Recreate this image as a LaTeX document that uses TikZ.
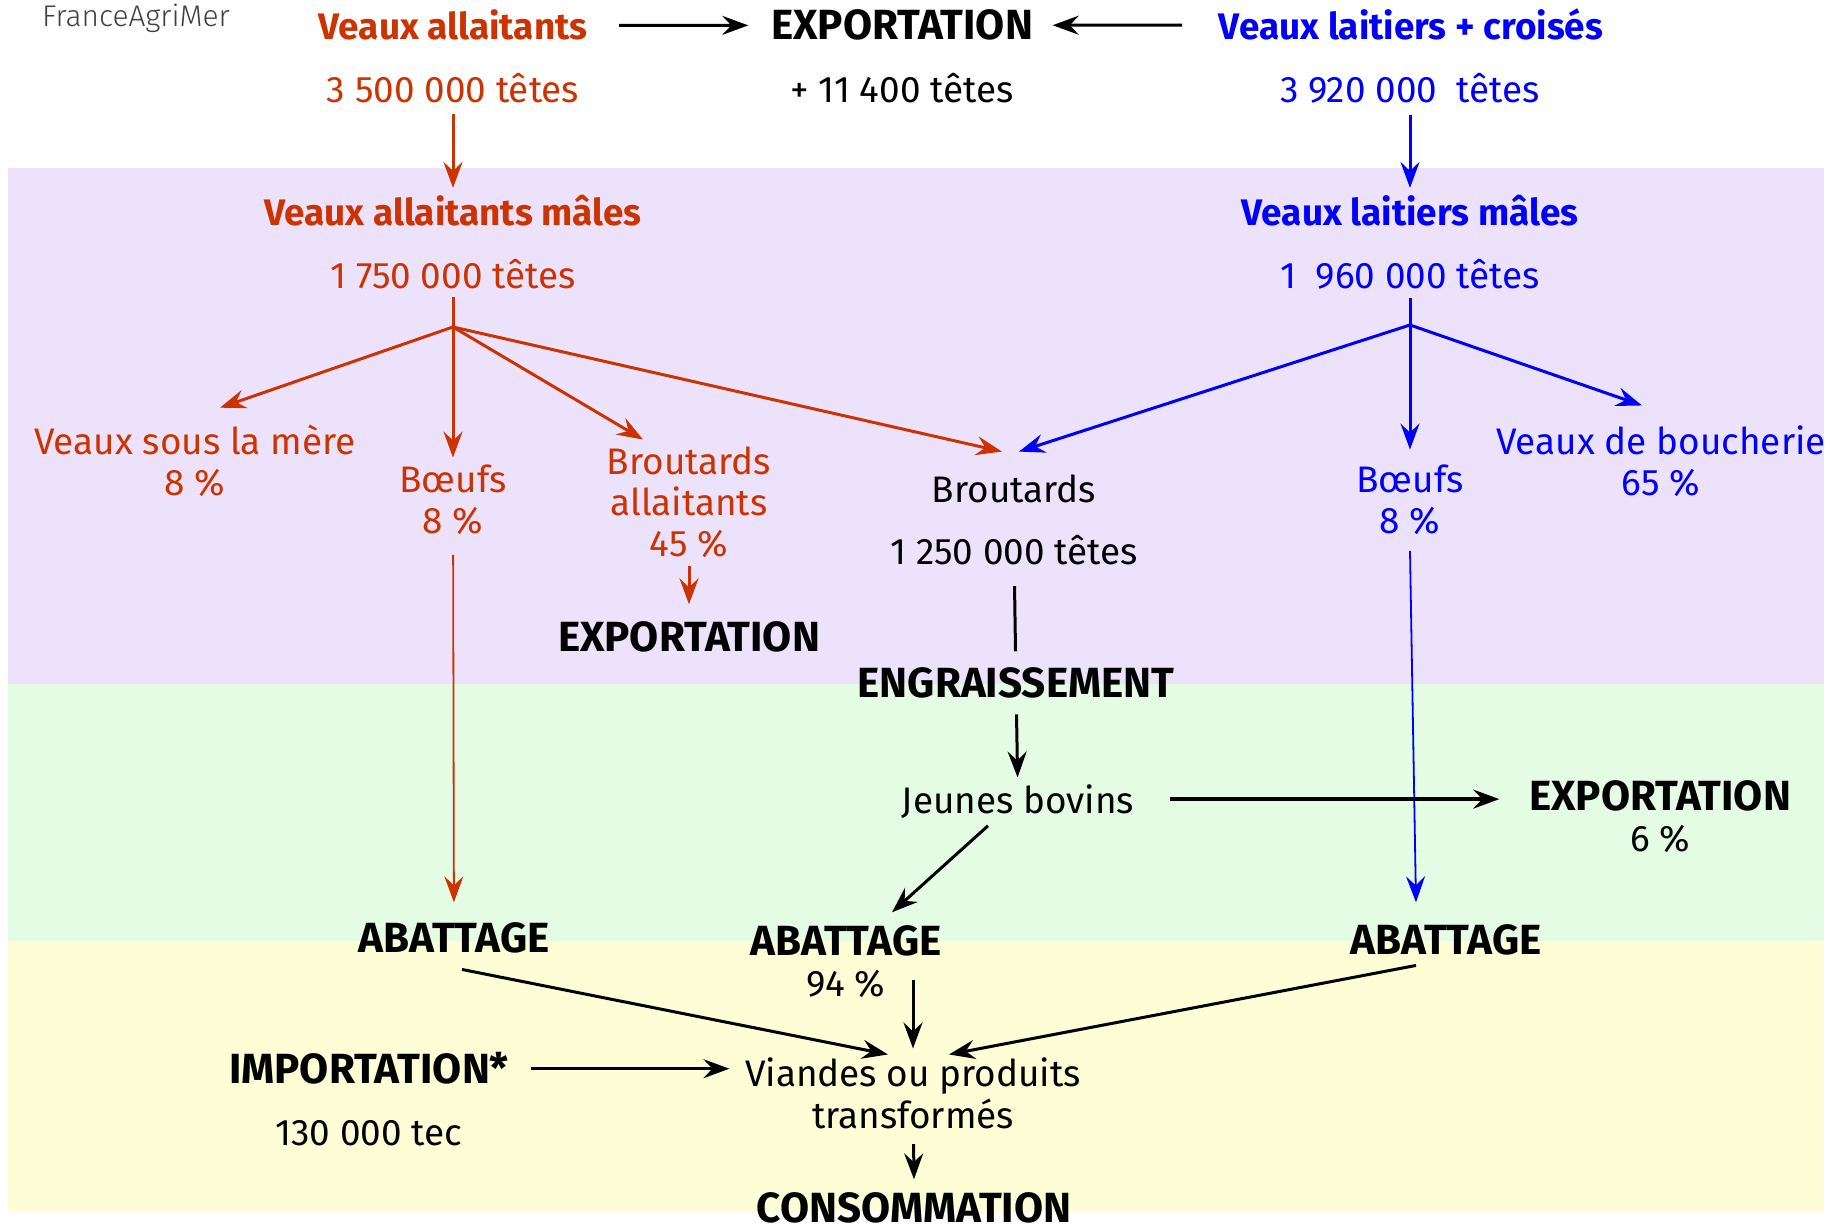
\documentclass[tikz,border=0pt]{standalone}
\usepackage{fontspec}
\setmainfont{Fira Sans}
\newfontfamily\logofont{Fira Sans Light}
\usepackage{xcolor}
\usetikzlibrary{arrows.meta, positioning, calc}

\definecolor{allait}{RGB}{204,51,0}
\definecolor{laitier}{RGB}{0,0,250}
\definecolor{bgviolet}{RGB}{236,226,252}
\definecolor{bgvert}{RGB}{228,252,228}
\definecolor{bgjaune}{RGB}{253,253,214}

\begin{document}
\begin{tikzpicture}[x=0.1mm, y=-0.1mm,
  txt/.style={anchor=base, align=center, inner sep=2pt, font=\fontsize{10.5}{11.67}\selectfont},
  bold/.style={txt, font=\fontsize{10.5}{11.67}\selectfont\bfseries},
  caps/.style={txt, font=\fontsize{12}{11.67}\selectfont\bfseries},
  edge/.style={-{Stealth[length=2.6mm, width=1.9mm, inset=0.9mm]}, line width=0.3mm},
  link/.style={line width=0.3mm},
  slim/.style={line width=0.18mm},
  heavy/.style={line width=0.38mm}
]
\useasboundingbox (0,0) rectangle (1833,1229);

% bands
\fill[bgviolet] (8,168) rectangle (1824,684);
\fill[bgvert] (8,684) rectangle (1824,941);
\fill[bgjaune] (8,941) rectangle (1824,1212);

\node[anchor=base, inner sep=0pt, font=\logofont\fontsize{8.5}{10}\selectfont, text=black!75] (logo) at (136,27) {FranceAgriMer};

% top row
\node[bold, text=allait] (va) at (453,40) {Veaux allaitants};
\node[caps] (exp0) at (902,40) {EXPORTATION};
\node[bold, text=laitier] (vl) at (1411,40) {Veaux laitiers + croisés};
\node[txt, text=allait] (vac) at (453,103) {3 500 000 têtes};
\node[txt] (expc) at (902,103) {+ 11 400 têtes};
\node[txt, text=laitier] (vlc) at (1410,103) {3 920 000\ \ têtes};

% males
\node[bold, text=allait] (vam) at (453,226) {Veaux allaitants mâles};
\node[bold, text=laitier] (vlm) at (1410,226) {Veaux laitiers mâles};
\node[txt, text=allait] (vamc) at (453,289) {1 750 000 têtes};
\node[txt, text=laitier] (vlmc) at (1410,289) {1\ \ 960 000 têtes};
\coordinate (hr) at (453,327);
\coordinate (hb) at (1410,325);

% branches
\node[txt, text=allait] (vsm) at (195,496) {Veaux sous la mère\\8 \%};
\node[txt, text=allait] (bfa) at (453,534) {Bœufs\\8 \%};
\node[txt, text=allait] (bra) at (689,557) {Broutards\\allaitants\\45 \%};
\node[caps] (expa) at (689,652) {EXPORTATION};
\node[txt] (bro) at (1014,503) {Broutards};
\node[txt] (broc) at (1014,565) {1 250 000 têtes};
\node[txt, text=laitier] (bfl) at (1410,534) {Bœufs\\8 \%};
\node[txt, text=laitier] (vdb) at (1661,496) {Veaux de boucherie\\65 \%};

% fattening
\node[caps] (eng) at (1016,698) {ENGRAISSEMENT};
\node[txt] (jb) at (1018,814) {Jeunes bovins};
\node[txt] (exp6) at (1660,852) {{\fontsize{12}{11.67}\selectfont\bfseries EXPORTATION}\\6 \%};

% slaughter and consumption
\node[caps] (ab1) at (454,953) {ABATTAGE};
\node[txt] (ab2) at (846,997) {{\fontsize{12}{11.67}\selectfont\bfseries ABATTAGE}\\94 \%};
\node[caps] (ab3) at (1446,955) {ABATTAGE};
\node[caps] (imp) at (369,1084) {IMPORTATION*};
\node[txt] (impc) at (369,1146) {130 000 tec};
\node[txt] (via) at (913,1128) {Viandes ou produits\\transformés};
\node[caps] (cons) at (914,1222) {CONSOMMATION};

\draw[edge, shorten <=2.4mm, shorten >=1.5mm] (va) -- (exp0);
\draw[edge, shorten <=2.9mm, shorten >=1.2mm] (vl) -- (exp0);

\draw[edge, allait, shorten <=0.3mm] (vac) -- (vam);
\draw[link, allait] (vamc) -- (hr);
\draw[edge, allait] (hr) -- ([xshift=2.5mm, yshift=1mm]vsm.north);
\draw[edge, allait] (hr) -- (hr |- bfa.north);
\draw[edge, allait] (hr) -- ([xshift=-4.6mm]bra.north);
\draw[edge, allait] (hr) -- ([xshift=-1.2mm, yshift=1.6mm]bro.north);
\draw[edge, allait] (bra) -- ([yshift=1mm]expa.north);
\draw[edge, allait, slim, shorten <=1.2mm, shorten >=1.3mm] (bfa) -- (ab1);

\draw[edge, laitier, shorten <=0.3mm] (vlc) -- (vlm);
\draw[link, laitier] (vlmc) -- (hb);
\draw[edge, laitier] (hb) -- ([xshift=0.5mm, yshift=1.6mm]bro.north);
\draw[edge, laitier] (hb) -- ($(hb |- bfl.north)+(0,-8)$);
\draw[edge, laitier] (hb) -- ([xshift=-1.9mm, yshift=1.3mm]vdb.north);
\draw[edge, laitier, slim] ([yshift=-0.8mm]bfl.south) -- ([xshift=-3mm, yshift=1.5mm]ab3.north);

\draw[link, shorten <=1.3mm, shorten >=0.9mm] (broc) -- (eng);
\draw[edge, shorten <=0.8mm] (eng) -- (jb);
\draw[edge, heavy, shorten <=2.8mm, shorten >=2.2mm] ([yshift=0.3mm]jb.east) -- ([yshift=0.3mm]jb.east -| exp6.west);
\draw[edge] ([xshift=-3mm, yshift=0.1mm]jb.south) -- ([xshift=4.6mm, yshift=0.6mm]ab2.north);

\draw[edge] ([xshift=0.8mm, yshift=-0.8mm]ab1.south) -- ([xshift=-2.5mm, yshift=-0.4mm]via.north);
\draw[edge] ($(ab2.south -| via.north)+(0,-26)$) -- ([yshift=0.2mm]via.north);
\draw[edge] ([xshift=-3mm, yshift=-0.2mm]ab3.south) -- ([xshift=3.6mm, yshift=-0.4mm]via.north);
\draw[edge, shorten <=1.4mm, shorten >=0.8mm] (imp.east) -- (imp.east -| via.west);
\draw[edge, shorten <=0.8mm] (via) -- ([yshift=0.5mm]cons.north);
\end{tikzpicture}
\end{document}
